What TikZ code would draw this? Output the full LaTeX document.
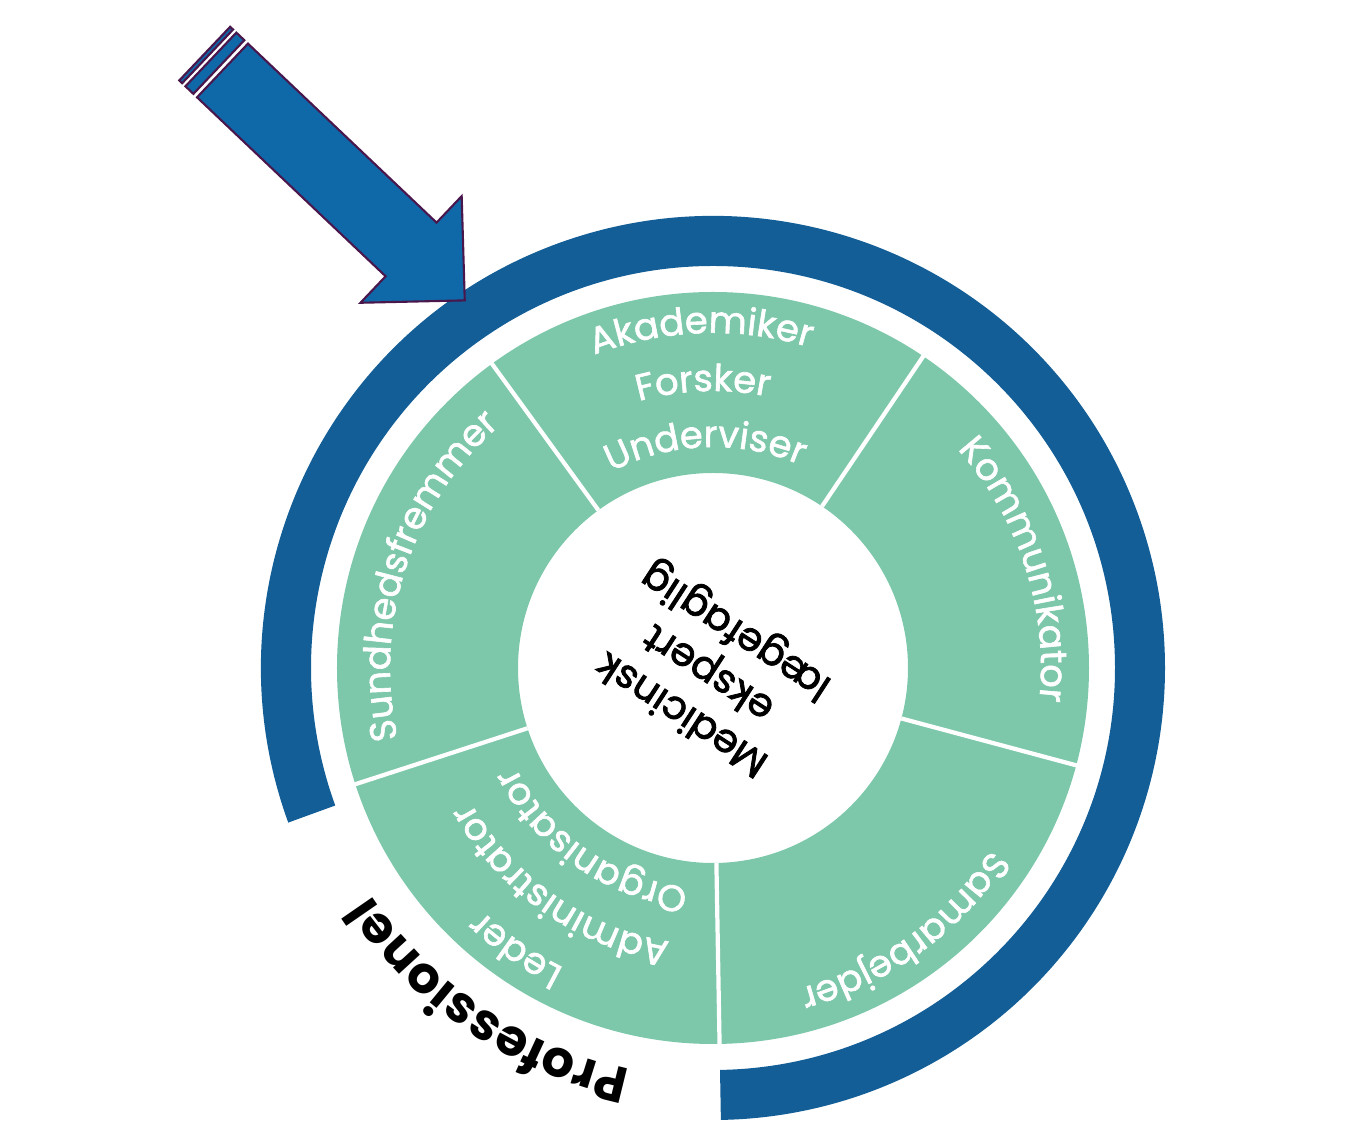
\documentclass[tikz,border=0pt]{standalone}
\usepackage{fontspec}
\setmainfont{Poppins}
\newfontfamily\corefont{Poppins}[FakeBold=2]
\newfontfamily\rolefont{Poppins}[FakeBold=1.6]
\usetikzlibrary{decorations.text}

\definecolor{ringblue}{HTML}{135E96}
\definecolor{ringgreen}{HTML}{7DC8AA}
\definecolor{arrowblue}{HTML}{0F68A8}
\definecolor{arrowline}{HTML}{4A174C}

\newcommand{\seglabel}{\rolefont\fontsize{21}{25}\selectfont\color{white}}
\tikzset{
  arrowbody/.style={fill=arrowblue,draw=arrowline,line width=1.2pt,line join=miter},
  divider/.style={white,line width=2.4pt},
  rolelabel/.style={decorate,decoration={text along path,text align=center,text={|\seglabel|#1}}},
}
% one label along a clockwise arc: radius, centre angle, text
\newcommand{\rolearc}[3]{\path[rolelabel={#3}] (#2+50:#1) arc[start angle=#2+50,end angle=#2-50,radius=#1];}

\begin{document}
\begin{tikzpicture}[x=0.02cm,y=0.02cm]
        \useasboundingbox (-713,-456) rectangle (652,668);

        % draw the outer blue band
        \fill[ringblue] (200:452) arc[start angle=200,end angle=-89,radius=452]
                -- (-89:402) arc[start angle=-89,end angle=200,radius=402] -- cycle;

        % draw the green ring and its five parts
        \fill[ringgreen,even odd rule] (0,0) circle[radius=376] (0,0) circle[radius=195];
        \foreach \a in {-89,-15,56,126,198}
                \draw[divider] (\a:195) -- (\a:377);

        % draw the labels of the roles
        \rolearc{335}{92}{Akademiker}
        \rolearc{277}{92}{Forsker}
        \rolearc{221}{92}{Underviser}
        \rolearc{328}{18}{Kommunikator}
        \rolearc{332}{-54}{Samarbejder}
        \rolearc{335}{-125}{Leder}
        \rolearc{277}{-125}{Administrator}
        \rolearc{221}{-125}{Organisator}
        \rolearc{323}{162}{Sundhedsfremmer}

        % the centre
        \node[rotate=147,align=center,font=\corefont\fontsize{22.5}{28}\selectfont] (core) at (-3,-3)
                {Medicinsk\\ekspert\\lægefaglig};

        \path[decorate,decoration={text along path,text align=center,
                text={|\fontsize{29}{35}\selectfont\bfseries|Professionel}}]
                (-74:410) arc[start angle=-74,end angle=-174,radius=410];

        % draw the arrow
        \begin{scope}[shift={(-490.5,597.5)},rotate=-43.5]
                \filldraw[arrowbody] (0,-37) -- (260,-37) -- (260,-73.5) -- (334,0)
                        -- (260,73.5) -- (260,37) -- (0,37) -- cycle;
                \filldraw[arrowbody] (-16,-37) rectangle (-5,37);
                \filldraw[arrowbody] (-24.5,-37) rectangle (-20.5,37);
        \end{scope}
\end{tikzpicture}
\end{document}
